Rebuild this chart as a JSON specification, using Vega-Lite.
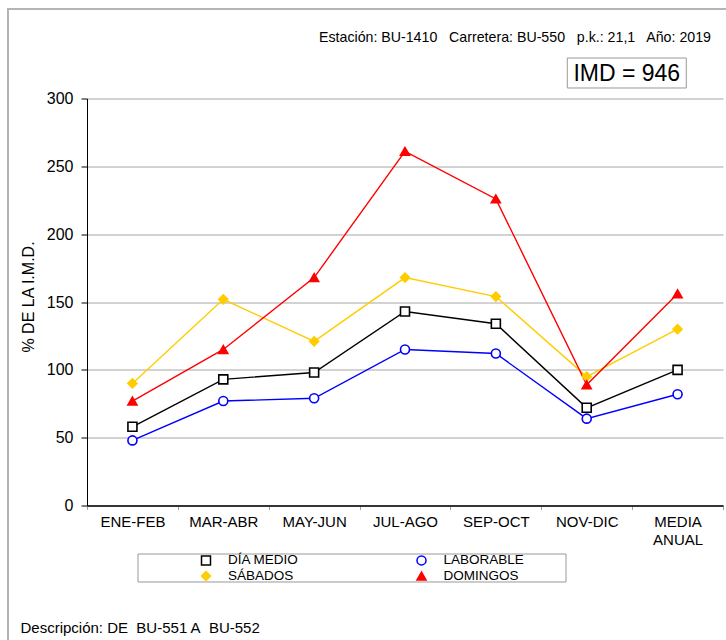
{
  "$schema": "https://vega.github.io/schema/vega-lite/v6.json",
  "autosize": {"type": "none"},
  "width": 636,
  "height": 407,
  "padding": {"left": 87, "top": 98.5, "right": 3, "bottom": 134.5},
  "background": "white",
  "config": {
    "font": "Liberation Sans",
    "view": {"stroke": null},
    "axis": {"labelColor": "black", "titleColor": "black", "labelFont": "Liberation Sans", "titleFont": "Liberation Sans", "titleFontWeight": "normal"}
  },
  "datasets": {
    "series": [
      {"periodo": "ENE-FEB", "serie": "DÍA MEDIO", "valor": 58},
      {"periodo": "MAR-ABR", "serie": "DÍA MEDIO", "valor": 93},
      {"periodo": "MAY-JUN", "serie": "DÍA MEDIO", "valor": 98},
      {"periodo": "JUL-AGO", "serie": "DÍA MEDIO", "valor": 143},
      {"periodo": "SEP-OCT", "serie": "DÍA MEDIO", "valor": 134},
      {"periodo": "NOV-DIC", "serie": "DÍA MEDIO", "valor": 72},
      {"periodo": "MEDIA ANUAL", "serie": "DÍA MEDIO", "valor": 100},
      {"periodo": "ENE-FEB", "serie": "LABORABLE", "valor": 48},
      {"periodo": "MAR-ABR", "serie": "LABORABLE", "valor": 77},
      {"periodo": "MAY-JUN", "serie": "LABORABLE", "valor": 79},
      {"periodo": "JUL-AGO", "serie": "LABORABLE", "valor": 115},
      {"periodo": "SEP-OCT", "serie": "LABORABLE", "valor": 112},
      {"periodo": "NOV-DIC", "serie": "LABORABLE", "valor": 64},
      {"periodo": "MEDIA ANUAL", "serie": "LABORABLE", "valor": 82},
      {"periodo": "ENE-FEB", "serie": "SÁBADOS", "valor": 90},
      {"periodo": "MAR-ABR", "serie": "SÁBADOS", "valor": 152},
      {"periodo": "MAY-JUN", "serie": "SÁBADOS", "valor": 121},
      {"periodo": "JUL-AGO", "serie": "SÁBADOS", "valor": 168},
      {"periodo": "SEP-OCT", "serie": "SÁBADOS", "valor": 154},
      {"periodo": "NOV-DIC", "serie": "SÁBADOS", "valor": 95},
      {"periodo": "MEDIA ANUAL", "serie": "SÁBADOS", "valor": 130},
      {"periodo": "ENE-FEB", "serie": "DOMINGOS", "valor": 77},
      {"periodo": "MAR-ABR", "serie": "DOMINGOS", "valor": 115},
      {"periodo": "MAY-JUN", "serie": "DOMINGOS", "valor": 168},
      {"periodo": "JUL-AGO", "serie": "DOMINGOS", "valor": 261},
      {"periodo": "SEP-OCT", "serie": "DOMINGOS", "valor": 226},
      {"periodo": "NOV-DIC", "serie": "DOMINGOS", "valor": 89},
      {"periodo": "MEDIA ANUAL", "serie": "DOMINGOS", "valor": 156}
    ],
    "notes": [
      {"texto": "IMD = 946"}
    ]
  },
  "layer": [
    {
      "data": {"name": "notes"},
      "mark": {"type": "point", "shape": "M1,-1H-1V1", "filled": false, "stroke": "#b4b4b4", "strokeWidth": 2, "size": 535824, "opacity": 1},
      "encoding": {
        "x": {"datum": "ENE-FEB", "type": "nominal", "scale": {"type": "band", "paddingInner": 0, "paddingOuter": 0, "domain": ["ENE-FEB", "MAR-ABR", "MAY-JUN", "JUL-AGO", "SEP-OCT", "NOV-DIC", "MEDIA ANUAL"]}},
        "y": {"datum": 100, "type": "quantitative"},
        "xOffset": {"value": 287},
        "yOffset": {"value": 5.2}
      }
    },
    {
      "data": {"name": "notes"},
      "mark": {"type": "text", "text": "Estación: BU-1410\u00a0\u00a0 Carretera: BU-550\u00a0\u00a0 p.k.: 21,1\u00a0\u00a0 Año: 2019", "align": "left", "baseline": "middle", "fontSize": 14.2, "font": "Liberation Sans", "color": "black"},
      "encoding": {
        "x": {"datum": "ENE-FEB", "type": "nominal"},
        "y": {"datum": 300, "type": "quantitative"},
        "xOffset": {"value": 232},
        "yOffset": {"value": -60.5}
      }
    },
    {
      "data": {"name": "notes"},
      "mark": {"type": "point", "shape": "M-1,-0.252H1V0.252H-1Z", "filled": false, "stroke": "#999999", "strokeWidth": 1, "size": 14161, "opacity": 1},
      "encoding": {
        "x": {"datum": "NOV-DIC", "type": "nominal"},
        "y": {"datum": 300, "type": "quantitative"},
        "xOffset": {"value": 85.5},
        "yOffset": {"value": -25.5}
      }
    },
    {
      "data": {"name": "notes"},
      "mark": {"type": "text", "align": "center", "baseline": "middle", "fontSize": 23, "font": "Liberation Sans", "color": "black"},
      "encoding": {
        "text": {"field": "texto"},
        "x": {"datum": "NOV-DIC", "type": "nominal"},
        "y": {"datum": 300, "type": "quantitative"},
        "xOffset": {"value": 85.5},
        "yOffset": {"value": -24.5}
      }
    },
    {
      "data": {"name": "notes"},
      "mark": {"type": "point", "shape": "M-1,-0.0654H1V0.0654H-1Z", "filled": false, "stroke": "#999999", "strokeWidth": 1, "size": 183184, "opacity": 1},
      "encoding": {
        "x": {"datum": "MAY-JUN", "type": "nominal"},
        "y": {"datum": 0, "type": "quantitative"},
        "xOffset": {"value": 83.3},
        "yOffset": {"value": 62.5}
      }
    },
    {
      "data": {"name": "series"},
      "mark": {"type": "line", "strokeWidth": 1.4},
      "encoding": {
        "x": {
          "field": "periodo", "type": "nominal",
          "axis": {
            "title": "Descripción: DE\u00a0 BU-551 A\u00a0 BU-552",
            "titleX": -67, "titleY": 127, "titleAlign": "left", "titleAnchor": "start", "titleBaseline": "alphabetic",
            "titleFontSize": 15, "titleFont": "Liberation Sans", "titleFontWeight": "normal",
            "labelAngle": 0, "labelAlign": "center", "labelFontSize": 15, "labelPadding": 5, "labelLineHeight": 18, "labelBaseline": "top",
            "labelExpr": "datum.label == 'MEDIA ANUAL' ? ['MEDIA', 'ANUAL'] : datum.label",
            "tickBand": "extent", "tickSize": 4, "tickColor": "#a0a0a0",
            "domainColor": "black", "domainWidth": 1.5, "grid": false
          }
        },
        "y": {
          "field": "valor", "type": "quantitative",
          "scale": {"domain": [0, 300], "nice": false, "zero": true},
          "axis": {
            "title": "% DE LA I.M.D.", "titleFontSize": 16, "titleAngle": 270,
            "titleX": -59, "titleY": 198, "titleAlign": "center", "titleBaseline": "middle",
            "values": [0, 50, 100, 150, 200, 250, 300],
            "labelFontSize": 16, "labelPadding": 8, "tickSize": 6, "tickColor": "black",
            "domainColor": "black", "domainWidth": 1,
            "grid": true, "gridColor": "#a6a6a6", "gridWidth": 1
          }
        },
        "color": {
          "field": "serie", "type": "nominal",
          "scale": {"domain": ["DOMINGOS", "SÁBADOS", "LABORABLE", "DÍA MEDIO"], "range": ["#ff0000", "#ffcc00", "#0000ff", "#000000"]},
          "legend": null
        }
      }
    },
    {
      "data": {"name": "series"},
      "mark": {"type": "point", "filled": true, "strokeWidth": 1.6, "opacity": 1},
      "encoding": {
        "x": {"field": "periodo", "type": "nominal"},
        "y": {"field": "valor", "type": "quantitative"},
        "shape": {
          "field": "serie", "type": "nominal",
          "scale": {"domain": ["DÍA MEDIO", "LABORABLE", "SÁBADOS", "DOMINGOS"], "range": ["square", "circle", "diamond", "triangle-up"]},
          "legend": {
            "title": null, "orient": "none", "legendX": 112.25, "legendY": 454.75, "direction": "horizontal",
            "columns": 2, "columnPadding": 114.5, "rowPadding": 0, "padding": 0,
            "symbolSize": 81, "symbolStrokeWidth": 1.5, "symbolOpacity": 1,
            "labelFontSize": 13.5, "labelFont": "Liberation Sans", "labelColor": "black", "labelOffset": 15.25, "labelLimit": 200
          }
        },
        "fill": {
          "field": "serie", "type": "nominal",
          "scale": {"domain": ["DÍA MEDIO", "LABORABLE", "SÁBADOS", "DOMINGOS"], "range": ["#ffffff", "#ffffff", "#ffcc00", "#ff0000"]}
        },
        "stroke": {
          "field": "serie", "type": "nominal",
          "scale": {"domain": ["DÍA MEDIO", "LABORABLE", "SÁBADOS", "DOMINGOS"], "range": ["#000000", "#0000ff", "#ffcc00", "#ff0000"]}
        },
        "size": {
          "field": "serie", "type": "nominal",
          "scale": {"domain": ["LABORABLE", "DÍA MEDIO", "DOMINGOS", "SÁBADOS"], "range": [81, 81, 130, 100]},
          "legend": null
        }
      }
    }
  ]
}
